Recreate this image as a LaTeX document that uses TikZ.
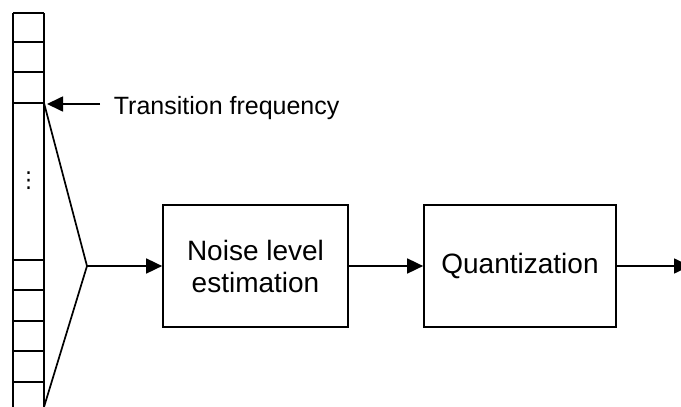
\documentclass[tikz,border=0pt]{standalone}
\usepackage{fontspec}
\setmainfont{Liberation Sans}
\newfontfamily\symfont{DejaVu Sans}
\usetikzlibrary{arrows.meta}
\begin{document}
\begin{tikzpicture}[x=1pt,y=-1pt,line width=1.7pt,
  blk/.style={draw,minimum height=122pt,align=center,inner sep=0pt,
    font=\fontsize{28}{32}\selectfont},
  arr/.style={-{Triangle[length=16pt,width=15pt]}},
  cell/.style={draw}]
\clip (0,0) rectangle (681,407);
\fill[white] (0,0) rectangle (681,407);
% column of cells
\draw (13,13) -- (13,412);
\draw (44,13) -- (44,412);
\foreach \y in {13,42,72,103,260,290,321,351,382}
  \draw (13,\y) -- (44,\y);
\node[font=\symfont\fontsize{22}{22}\selectfont,inner sep=0pt] (dots) at (28.5,181) {⋮};
% funnel
\coordinate (ftop) at (44,103);
\coordinate (apex) at (87,266);
\coordinate (fbot) at (44,407);
\draw (ftop) -- (apex) -- (fbot);
% label
\coordinate (tfs) at (100,104);
\coordinate (tfe) at (47,104);
\draw[arr] (tfs) -- (tfe);
\node[anchor=base west,inner sep=0pt,font=\fontsize{25}{30}\selectfont] (tf) at (113,114) {Transition frequency};
% blocks
\node[blk,minimum width=185pt] (noise) at (255.5,266) {Noise level\\estimation};
\node[blk,minimum width=192pt] (quant) at (520,266) {Quantization};
\coordinate (out) at (690,266);
\draw[arr] (apex) -- (noise.west);
\draw[arr] (noise.east) -- (quant.west);
\draw[arr] (quant.east) -- (out);
\end{tikzpicture}
\end{document}
